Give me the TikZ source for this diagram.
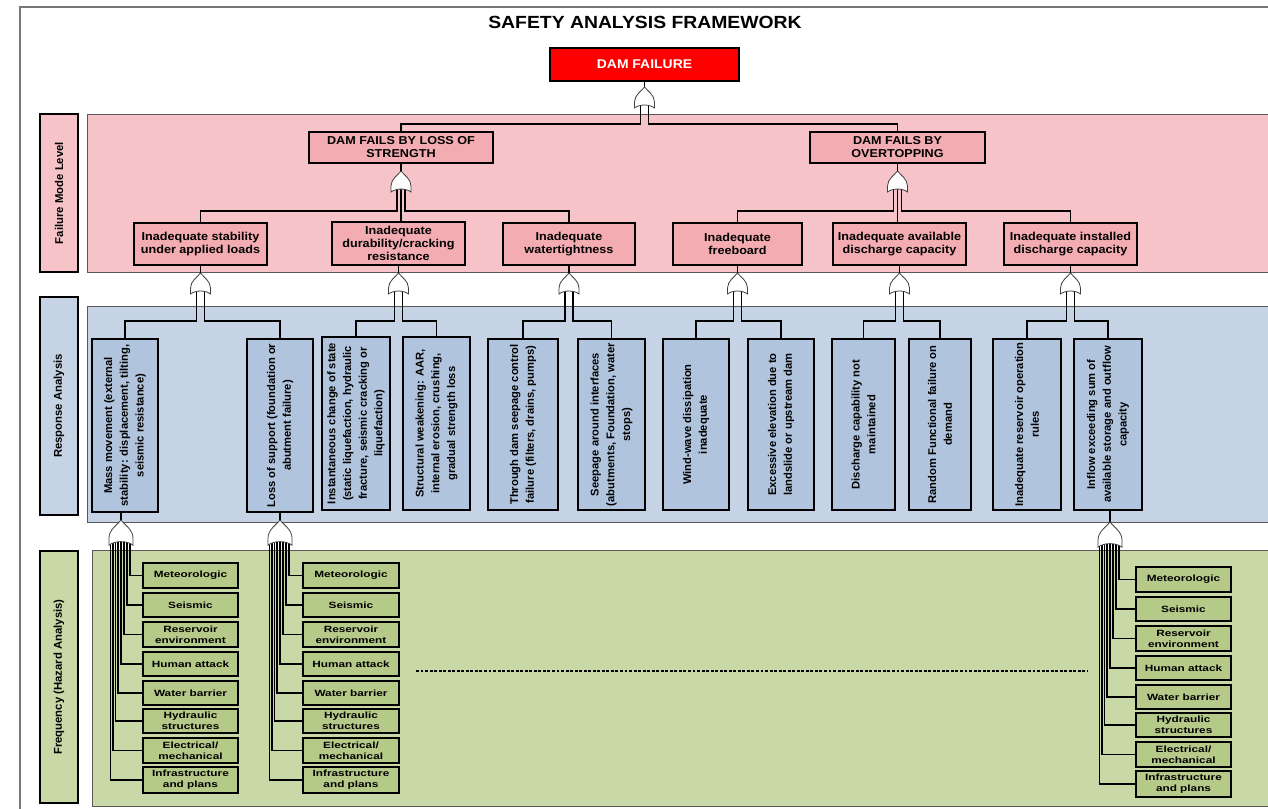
\documentclass[tikz,border=0pt]{standalone}
\usepackage{fontspec}
\setmainfont{Liberation Sans}[FakeStretch=1.1]
\newfontfamily\vfont{Liberation Sans}
\newfontfamily\hzfont{Liberation Sans}[FakeStretch=1.3]
\usetikzlibrary{calc}
\definecolor{pinkband}{RGB}{246,196,200}
\definecolor{pinkbox}{RGB}{243,172,177}
\definecolor{blueband}{RGB}{197,211,228}
\definecolor{bluebox}{RGB}{177,196,221}
\definecolor{greenband}{RGB}{200,216,166}
\definecolor{greenbox}{RGB}{181,201,136}
\definecolor{framegray}{RGB}{120,120,120}
\newcommand{\hbx}[7]{\node[#1, minimum width={((#5)-(#3))*0.75pt}, minimum height={((#6)-(#4))*0.75pt}] (#2) at ({((#3)+(#5))/2},{((#4)+(#6))/2}) {#7};}
\newcommand{\vbx}[7]{\node[#1, rotate=90, minimum width={((#6)-(#4))*0.75pt}, minimum height={((#5)-(#3))*0.75pt}] (#2) at ({((#3)+(#5))/2},{((#4)+(#6))/2}) {#7};}
\tikzset{
 basebox/.style={draw=black, line width=1.5pt, inner sep=0pt, align=center},
 topbox/.style={basebox, fill=red, text=white, font=\bfseries\fontsize{9.5}{11}\selectfont},
 modebox/.style={basebox, fill=pinkbox, font=\bfseries\fontsize{8.6}{9.8}\selectfont},
 respbox/.style={basebox, fill=bluebox, font=\vfont\bfseries\fontsize{8.4}{11.8}\selectfont},
 hazbox/.style={basebox, fill=greenbox, font=\hzfont\bfseries\fontsize{6.8}{8.2}\selectfont},
 lvlbox/.style={draw=black, line width=1.2pt, inner sep=0pt, font=\vfont\bfseries\fontsize{8.5}{10}\selectfont},
 band/.style={draw=black!65, line width=0.7pt},
 conn/.style={draw=black, line width=1.2pt},
 hz/.style={draw=black, line width=1.4pt},
 orgate/.pic={\path[draw=black!75, fill=white, line width=0.6pt] (0,0) .. controls (3,4) and (10,8) .. (10,15) -- (10,21) .. controls (5,17) and (-5,17) .. (-10,21) -- (-10,15) .. controls (-10,8) and (-3,4) .. (0,0) -- cycle;},
}
\begin{document}
\begin{tikzpicture}[x=0.75pt,y=-0.75pt]
\useasboundingbox (0,0) rectangle (1268,808);
\clip (0,0) rectangle (1268,808);
\fill[white] (0,0) rectangle (1268,808);
\draw[framegray, line width=0.8pt] (20,7) rectangle (1300,830);
% bands
\path[band, fill=pinkband] (87,114) rectangle (1300,272);
\path[band, fill=blueband] (87,306) rectangle (1300,522);
\path[band, fill=greenband] (92,550) rectangle (1300,806);
% level labels
\vbx{lvlbox, fill=pinkband}{L1}{40}{114}{78}{272}{Failure Mode Level}
\vbx{lvlbox, fill=blueband}{L2}{40}{297}{78}{515}{Response Analysis}
\vbx{lvlbox, fill=greenband}{L3}{40}{551}{78}{803}{Frequency (Hazard Analysis)}
% title
\node[font=\bfseries\fontsize{13.2}{15}\selectfont] (title) at (645,22) {SAFETY ANALYSIS FRAMEWORK};
% top
\hbx{topbox}{d0}{550}{48}{739}{81}{DAM FAILURE}
\hbx{modebox}{fa}{309}{132}{493}{163}{DAM FAILS BY LOSS OF\\STRENGTH}
\hbx{modebox}{fb}{810}{132}{985}{163}{DAM FAILS BY\\OVERTOPPING}
% level 2
\hbx{modebox}{s1}{134}{223}{267}{265}{Inadequate stability\\under applied loads}
\hbx{modebox}{s2}{332}{222}{465}{265}{Inadequate\\durability/cracking\\resistance}
\hbx{modebox}{s3}{503}{223}{635}{265}{Inadequate\\watertightness}
\hbx{modebox}{s4}{673}{223}{802}{265}{Inadequate\\freeboard}
\hbx{modebox}{s5}{833}{223}{966}{265}{Inadequate available\\discharge capacity}
\hbx{modebox}{s6}{1004}{223}{1137}{265}{Inadequate installed\\discharge capacity}
% response
\vbx{respbox}{r1}{92}{339}{158}{512}{Mass movement (external\\stability: displacement, tilting,\\seismic resistance)}
\vbx{respbox}{r2}{247}{339}{313}{512}{Loss of support (foundation or\\abutment failure)}
\vbx{respbox}{r3}{322}{337}{390}{510}{Instantaneous change of state\\(static liquefaction, hydraulic\\fracture, seismic cracking or\\liquefaction)}
\vbx{respbox}{r4}{403}{337}{470}{510}{Structural weakening: AAR,\\internal erosion, crushing,\\gradual strength loss}
\vbx{respbox}{r5}{488}{339}{558}{510}{Through dam seepage control\\failure (filters, drains, pumps)}
\vbx{respbox}{r6}{578}{339}{645}{510}{Seepage around interfaces\\(abutments, Foundation, water\\stops)}
\vbx{respbox}{r7}{663}{339}{729}{510}{Wind-wave dissipation\\inadequate}
\vbx{respbox}{r8}{748}{339}{814}{510}{Excessive elevation due to\\landslide or upstream dam}
\vbx{respbox}{r9}{832}{339}{895}{510}{Discharge capability not\\maintained}
\vbx{respbox}{r10}{909}{339}{971}{510}{Random Functional failure on\\demand}
\vbx{respbox}{r11}{993}{339}{1061}{510}{Inadequate reservoir operation\\rules}
\vbx{respbox}{r12}{1074}{339}{1142}{510}{Inflow exceeding sum of\\available storage and outflow\\capacity}
% hazard boxes
\foreach \c/\xa/\xb/\dy in {1/143/238/0, 2/303/399/0, 3/1136/1231/4}{
 \foreach \n/\ya/\yb/\t in {a/563/588/Meteorologic, b/593/617/Seismic, c/622/647/{Reservoir\\environment}, d/652/676/Human attack, e/681/705/Water barrier, f/709/733/{Hydraulic\\structures}, g/738/763/{Electrical/\\mechanical}, h/767/793/{Infrastructure\\and plans}}{
  \hbx{hazbox}{h\c\n}{\xa}{\ya+\dy}{\xb}{\yb+\dy}{\t}
 }
}
% top gate
\coordinate (gA) at ($(d0.south)+(0,5)$);
\draw[conn] (d0.south) -- (gA);
\draw[conn] ($(gA)+(-4,17)$) -- ($(gA)+(-4,37)$) -| (fa.north);
\draw[conn] ($(gA)+(4,17)$) -- ($(gA)+(4,37)$) -| (fb.north);
\pic at (gA) {orgate};
% level 1 gates
\foreach \p/\l/\m/\r in {fa/s1/s2/s3, fb/s4/s5/s6}{
 \coordinate (g\p) at ($(\p.south)+(0,7)$);
 \draw[conn] (\p.south) -- (g\p);
 \draw[conn] ($(g\p)+(-4,17)$) -- ($(g\p)+(-4,40)$) -| (\l.north);
 \draw[conn] ($(g\p)+(0,17)$) -- (g\p |- \m.north);
 \draw[conn] ($(g\p)+(4,17)$) -- ($(g\p)+(4,40)$) -| (\r.north);
 \pic at (g\p) {orgate};
}
% level 2 gates
\foreach \p/\l/\r in {s1/r1/r2, s2/r3/r4, s3/r5/r6, s4/r7/r8, s5/r9/r10, s6/r11/r12}{
 \coordinate (g\p) at ($(\p.south)+(0,7)$);
 \draw[conn] (\p.south) -- (g\p);
 \draw[conn] ($(g\p)+(-4,17)$) -- ($(g\p)+(-4,48)$) -| (\l.east);
 \draw[conn] ($(g\p)+(4,17)$) -- ($(g\p)+(4,48)$) -| (\r.east);
 \pic at (g\p) {orgate};
}
% hazard gates
\coordinate (hg1) at (121,520);
\coordinate (hg2) at (280,520);
\coordinate (hg3) at (1110,522);
\foreach \c/\r in {1/r1, 2/r2, 3/r12}{
 \draw[conn] (hg\c) -- (hg\c |- \r.west);
 \foreach \o/\n in {9/a,6/b,3/c,0/d,-3/e,-5.5/f,-8/g,-10.5/h}{
  \draw[hz] ($(hg\c)+(\o,20)$) |- (h\c\n.west);
 }
 \pic[scale=1.2] at (hg\c) {orgate};
}
% continuation
\draw[line width=1.6pt, dash pattern=on 2.2pt off 1.2pt] (416,671) -- (1088,671);
\end{tikzpicture}
\end{document}
